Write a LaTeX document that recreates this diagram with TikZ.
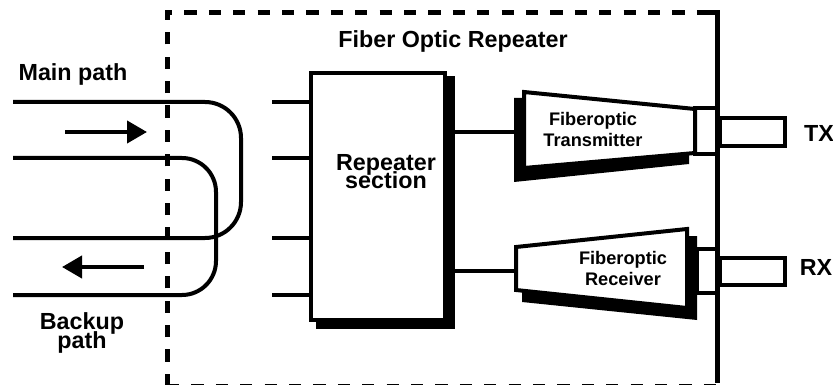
\documentclass[tikz,border=0pt]{standalone}
\usepackage{fontspec}
\setmainfont{Liberation Sans}
\usetikzlibrary{arrows.meta}

\tikzset{
    wire/.style = {line width = 4pt},
    flow/.style = {line width = 4pt, -{Triangle[length = 20pt, width = 22pt]}},
    boundary/.style = {line width = 5pt, dash pattern = on 12.2pt off 12.2pt},
    unit/.style = {draw, line width = 4pt, fill = white},
    shade/.style = {fill = black},
    biglabel/.style = {font = \fontsize{23.3}{18}\bfseries\selectfont, align = center, inner sep = 0pt},
    smalllabel/.style = {font = \fontsize{18.2}{20.5}\bfseries\selectfont, align = center, inner sep = 0pt}
}

\begin{document}
\begin{tikzpicture}[x = 1pt, y = -1pt]

    \useasboundingbox (0,0) rectangle (833,385);

    % enclosure
    \coordinate (boxtopleft) at (167,13);
    \coordinate (boxbotleft) at (167,386);
    \coordinate (boxtopright) at (717,13);
    \coordinate (boxbotright) at (717,386);
    \draw[boundary] (boxbotleft) -- (boxtopleft) -- (boxtopright);
    \draw[boundary] (boxbotleft) -- (boxbotright);
    \draw[line width = 5pt] (703,13) -- (boxtopright) -- (717,383);

    % paths on the left
    \coordinate (mainin) at (13,102);
    \coordinate (mainout) at (13,238);
    \coordinate (backin) at (13,158);
    \coordinate (backout) at (13,295);
    \draw[wire, rounded corners = 36pt] (mainin) -- (241,102) -- (241,238) -- (mainout);
    \draw[wire, rounded corners = 34pt] (backin) -- (216,158) -- (216,295) -- (backout);

    \coordinate (mainfrom) at (65,132);
    \coordinate (mainto) at (147,132);
    \coordinate (backfrom) at (144,267);
    \coordinate (backto) at (62,267);
    \draw[flow] (mainfrom) -- (mainto);
    \draw[flow] (backfrom) -- (backto);

    % repeater
    \fill[shade] (316,76) rectangle (455,329);
    \node[unit, minimum width = 134pt, minimum height = 247pt] (repeater) at (378,196.5) {};
    \node[biglabel] (repeaterlabel) at (386,171.5) {Repeater\\[-4pt]section};

    \coordinate (stuba) at (272,102);
    \coordinate (stubb) at (272,158);
    \coordinate (stubc) at (272,238);
    \coordinate (stubd) at (272,295);
    \draw[wire] (stuba) -- (stuba -| repeater.west);
    \draw[wire] (stubb) -- (stubb -| repeater.west);
    \draw[wire] (stubc) -- (stubc -| repeater.west);
    \draw[wire] (stubd) -- (stubd -| repeater.west);

    % transmitter
    \fill[shade] (514,98) -- (524,98) -- (689,150) -- (689,164) -- (514,182) -- cycle;
    \draw[unit] (524,92) -- (695,109) -- (695,153) -- (524,168) -- cycle;
    \coordinate (txin) at (514,132);
    \draw[wire] (txin -| repeater.east) -- (txin);
    \node[smalllabel] (txlabel) at (593,129.5) {Fiberoptic\\Transmitter};
    \node[draw, line width = 3.6pt, minimum width = 22pt, minimum height = 46pt] (txport) at (706,131) {};
    \node[draw, line width = 4pt, minimum width = 65pt, minimum height = 28pt] (txfiber) at (752.5,132) {};
    \node[biglabel] (txname) at (819,133) {TX};

    % receiver
    \fill[shade] (697,236) -- (697,320) -- (522,302) -- (522,290) -- (680,236) -- cycle;
    \draw[unit] (516,247) -- (687,229) -- (687,308) -- (516,290) -- cycle;
    \coordinate (rxin) at (516,271);
    \draw[wire] (rxin -| repeater.east) -- (rxin);
    \node[smalllabel] (rxlabel) at (623,268.5) {Fiberoptic\\Receiver};
    \node[draw, line width = 3.6pt, minimum width = 20pt, minimum height = 44pt] (rxport) at (707,271) {};
    \node[draw, line width = 4pt, minimum width = 65pt, minimum height = 27pt] (rxfiber) at (752.5,271.5) {};
    \node[biglabel] (rxname) at (816,267) {RX};

    % labels
    \node[biglabel] (mainlabel) at (73,74) {Main path};
    \node[biglabel] (backlabel) at (82,333) {Backup\\[-4pt]path};
    \node[biglabel] (titlelabel) at (453,41) {Fiber Optic Repeater};

\end{tikzpicture}
\end{document}
